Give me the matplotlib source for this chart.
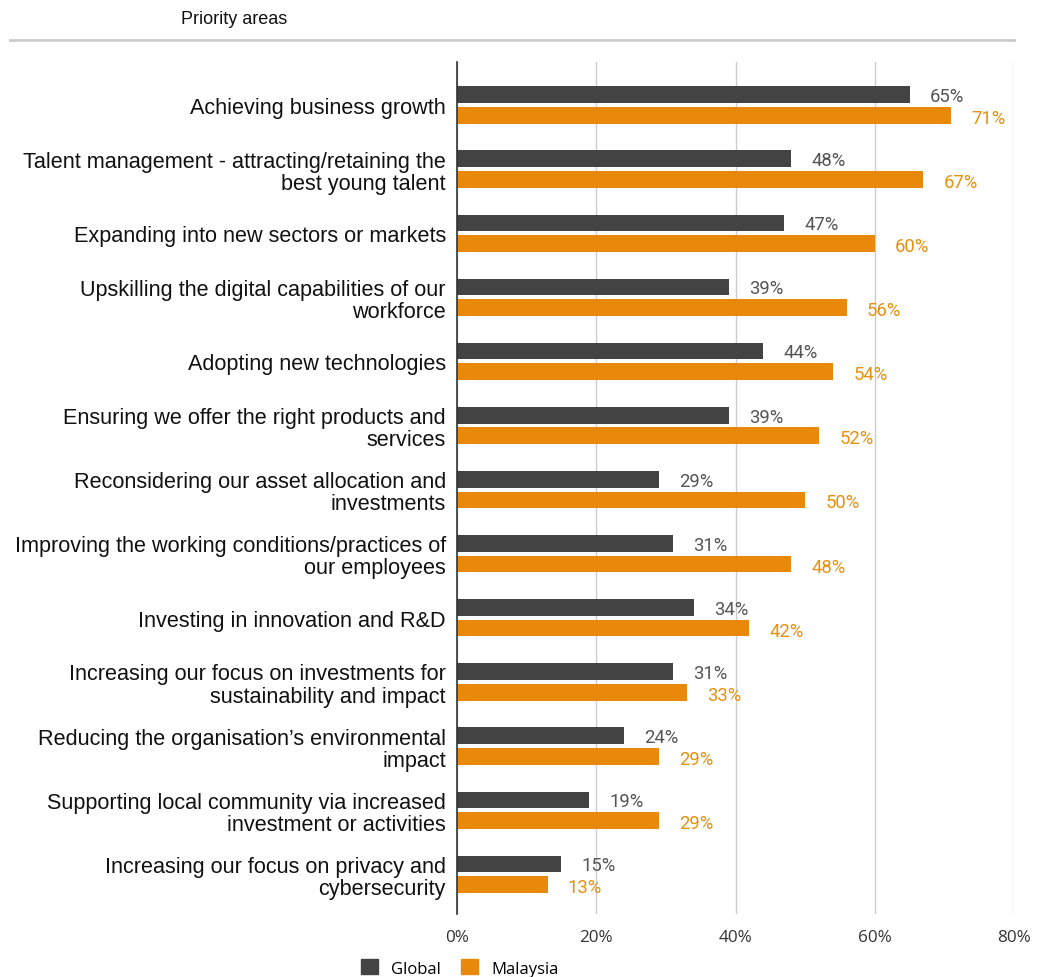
import numpy as np
import matplotlib
matplotlib.use('Agg')
import matplotlib.pyplot as plt
from matplotlib.patches import Patch

CATEGORIES = [
    'Achieving business growth',
    'Talent management - attracting/retaining the\nbest young talent',
    'Expanding into new sectors or markets',
    'Upskilling the digital capabilities of our\nworkforce',
    'Adopting new technologies',
    'Ensuring we offer the right products and\nservices',
    'Reconsidering our asset allocation and\ninvestments',
    'Improving the working conditions/practices of\nour employees',
    'Investing in innovation and R&D',
    'Increasing our focus on investments for\nsustainability and impact',
    'Reducing the organisation\u2019s environmental\nimpact',
    'Supporting local community via increased\ninvestment or activities',
    'Increasing our focus on privacy and\ncybersecurity',
]
GLOBAL = [65, 48, 47, 39, 44, 39, 29, 31, 34, 31, 24, 19, 15]
MALAYSIA = [71, 67, 60, 56, 54, 52, 50, 48, 42, 33, 29, 29, 13]
X_TICKS = [0, 20, 40, 60, 80]

C_GLOBAL = '#434343'
C_MALAY = '#e8890b'
C_MALAY_TXT = '#e8900f'

fig = plt.figure(figsize=(10.44, 9.78), dpi=100)
ax = fig.add_axes([457 / 1044, 1 - 915 / 978, (1014 - 457) / 1044, (915 - 63) / 978])

y = np.arange(len(CATEGORIES))
off = 0.16
h = 0.26
ax.barh(y - off, GLOBAL, height=h, color=C_GLOBAL, zorder=3)
ax.barh(y + off, MALAYSIA, height=h, color=C_MALAY, zorder=3)

for yi, g, m in zip(y, GLOBAL, MALAYSIA):
    ax.text(g + 2.9, yi - off + 0.02, f'{g}%', va='center', ha='left',
            fontsize=13.3, color='#555555', family='Roboto')
    ax.text(m + 2.9, yi + off + 0.04, f'{m}%', va='center', ha='left',
            fontsize=13.3, color=C_MALAY_TXT, family='Roboto')

ax.set_ylim(len(CATEGORIES) - 1 + 0.62, -0.67)
ax.set_xlim(0, 80)
ax.set_yticks(y)
ax.set_yticklabels(CATEGORIES, fontsize=15.6, family='Liberation Sans', color='#111111',
                   linespacing=1.08, multialignment='right')
ax.set_xticks(X_TICKS)
ax.set_xticklabels([f'{t}%' for t in X_TICKS], fontsize=12.3, family='Open Sans',
                   color='#333333')
ax.tick_params(axis='y', length=0, pad=8)
ax.tick_params(axis='x', length=0, pad=11)
ax.grid(axis='x', color='#cccccc', linewidth=1, zorder=0)
for s in ['top', 'right', 'bottom']:
    ax.spines[s].set_visible(False)
ax.spines['left'].set_color('#333333')
ax.spines['left'].set_linewidth(1.2)
ax.spines['left'].set_zorder(4)

# header and divider
fig.text(181 / 1044, 1 - 19 / 978, 'Priority areas', fontsize=13,
         family='Liberation Sans', color='#111111', va='center', ha='left')
fig.add_artist(plt.Line2D([10 / 1044, 1014 / 1044], [1 - 41 / 978, 1 - 41 / 978],
                          color='#cccccc', linewidth=2))

handles = [Patch(color=C_GLOBAL, label='Global'), Patch(color=C_MALAY, label='Malaysia')]
fig.legend(handles=handles, loc='center', bbox_to_anchor=(460 / 1044, 1 - 969 / 978),
           ncol=2, frameon=False, prop={'family': 'Open Sans', 'size': 12},
           handlelength=1.0, handleheight=1.0, handletextpad=0.8, columnspacing=1.2)

fig.savefig('out.png', dpi=100)
